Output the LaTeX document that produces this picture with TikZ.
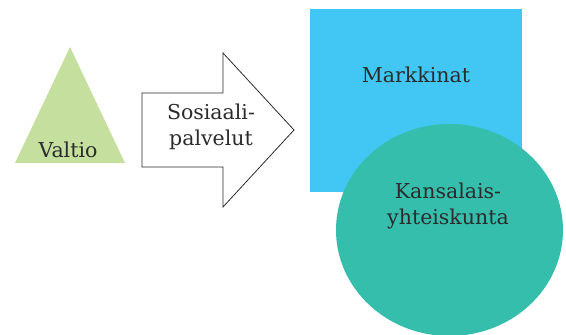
\documentclass[tikz,border=0pt]{standalone}
\usepackage{fontspec}
\setmainfont{DejaVu Serif}
\definecolor{valtiogreen}{HTML}{C5DF9F}
\definecolor{markkinablue}{HTML}{42C6F3}
\definecolor{kansateal}{HTML}{36BEAC}
\definecolor{tekstigray}{HTML}{2B2B2B}
\tikzset{
  label text/.style={text=tekstigray,font=\fontsize{20.5}{26}\selectfont,align=center,inner sep=0pt}
}
\begin{document}
\begin{tikzpicture}[x=1pt,y=-1pt]

% Fix the page size
\useasboundingbox (0,0) rectangle (566,335);

% Draw the green triangle
\fill[valtiogreen] (15,163) -- (70,47) -- (125,163) -- cycle;
\node[label text] (valtio) at (68,150) {Valtio};

% Draw the arrow
\draw[line width=0.8pt,draw=tekstigray,fill=white,line join=miter] (142,93) -- (223,93) -- (223,53) -- (294,130) -- (223,207) -- (223,167) -- (142,167) -- cycle;
\node[label text] (palvelut) at (211,127) {Sosiaali-\\palvelut};

% Draw the blue square
\fill[markkinablue] (310,9) rectangle (522,192);
\node[label text] (markkinat) at (416,75) {Markkinat};

% Draw the circle on top
\fill[kansateal] (449.5,230) ellipse[x radius=113.5,y radius=106];
\node[label text] (kansalais) at (448,206) {Kansalais-\\yhteiskunta};

\end{tikzpicture}
\end{document}
